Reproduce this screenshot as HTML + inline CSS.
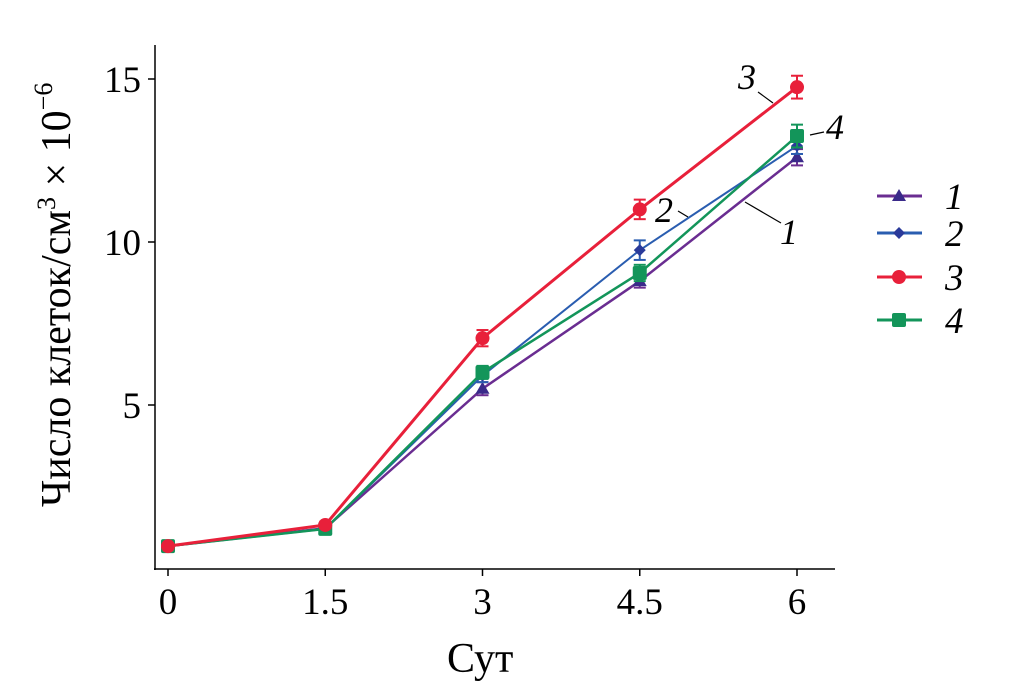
<!DOCTYPE html>
<html><head><meta charset="utf-8"><style>
html,body{margin:0;padding:0;background:#fff;}
svg{display:block;font-family:"Liberation Serif",serif;}
</style></head><body>
<svg id="chart" width="1010" height="689" viewBox="0 0 1010 689" xmlns="http://www.w3.org/2000/svg">
<g id="axes"></g>
<g id="series"></g>
<g id="annot">
<text x="738" y="89" font-size="36" font-style="italic">3</text>
<line x1="758" y1="92" x2="773" y2="103" stroke="#000" stroke-width="1.2"/>
<text x="826" y="139" font-size="36" font-style="italic">4</text>
<line x1="810" y1="135" x2="824" y2="132" stroke="#000" stroke-width="1.2"/>
<text x="655" y="222" font-size="36" font-style="italic">2</text>
<line x1="678" y1="211" x2="688" y2="217" stroke="#000" stroke-width="1.2"/>
<text x="780" y="244" font-size="36" font-style="italic">1</text>
<line x1="745" y1="202" x2="781" y2="223" stroke="#000" stroke-width="1.2"/>
</g>
<g id="legend"></g>
<text x="447" y="672" font-size="42">Сут</text>
<text transform="translate(70,507) rotate(-90)" font-size="42">Число клеток/см<tspan font-size="26" dy="-15">3</tspan><tspan dy="15"> × 10</tspan><tspan font-size="26" dy="-18">−6</tspan></text>
</svg>
<script>
const xValues=[0,1.5,3,4.5,6];
const xTickLabels=['0','1.5','3','4.5','6'];
const yTicks=[5,10,15];
const s1=[0.67,1.22,5.5,8.8,12.6];
const s2=[0.67,1.2,5.9,9.75,12.95];
const s3=[0.67,1.32,7.05,11.0,14.75];
const s4=[0.67,1.2,6.0,9.05,13.25];
const err1=[0,0.1,0.2,0.2,0.25];
const err2=[0,0.1,0.2,0.3,0.25];
const err3=[0,0.1,0.25,0.3,0.35];
const err4=[0,0.1,0.2,0.25,0.35];
const seriesNames=['1','2','3','4'];
const NS='http://www.w3.org/2000/svg';
const X=v=>168+v*(797-168)/6;
const Y=v=>568-v*32.6;
function mk(tag,attrs,parent){const e=document.createElementNS(NS,tag);for(const k in attrs)e.setAttribute(k,attrs[k]);parent.appendChild(e);return e;}
const ax=document.getElementById('axes');
let l=mk('line',{x1:155,y1:45,x2:155,y2:570,stroke:'#000','stroke-width':1.5},ax);


l=mk('line',{x1:154,y1:569,x2:835,y2:569,stroke:'#000','stroke-width':1.5},ax);


xValues.forEach((v,i)=>{
  mk('line',{x1:X(v),y1:569,x2:X(v),y2:576,stroke:'#000','stroke-width':1.5},ax);
  const t=mk('text',{x:X(v),y:614,'font-size':37,'text-anchor':'middle'},ax);
  t.textContent=xTickLabels[i];
  
  
});
yTicks.forEach(v=>{
  mk('line',{x1:148,y1:Y(v),x2:155,y2:Y(v),stroke:'#000','stroke-width':1.5},ax);
  const t=mk('text',{x:141,y:Y(v)+13,'font-size':37,'text-anchor':'end'},ax);
  t.textContent=String(v);
  
  
});
const colors=['#6a2d91','#2a5db0','#e8203a','#13955a'];
const data=[s1,s2,s3,s4];
const errs=[err1,err2,err3,err4];
const widths=[2.5,2,3,2.5];
function marker(k,cx,cy,g,c){
  let m;
  if(k===0)m=mk('polygon',{points:`${cx},${cy-7} ${cx+7},${cy+5} ${cx-7},${cy+5}`,fill:'#3a2a8a'},g);
  else if(k===1)m=mk('polygon',{points:`${cx},${cy-6} ${cx+6},${cy} ${cx},${cy+6} ${cx-6},${cy}`,fill:'#2a3a9a'},g);
  else if(k===2)m=mk('circle',{cx:cx,cy:cy,r:7,fill:c},g);
  else m=mk('rect',{x:cx-7,y:cy-7,width:14,height:14,rx:2,fill:c},g);
  return m;
}
const sg=document.getElementById('series');
const order=[0,1,3,2];
order.forEach(k=>{
  const g=mk('g',{},sg);
  
  
  const pts=data[k].map((v,i)=>X(xValues[i])+','+Y(v)).join(' ');
  mk('polyline',{points:pts,fill:'none',stroke:colors[k],'stroke-width':widths[k]},g);
  data[k].forEach((v,i)=>{
    const cx=X(xValues[i]),e=errs[k][i];
    if(e>0){
      mk('line',{x1:cx,y1:Y(v+e),x2:cx,y2:Y(v-e),stroke:colors[k],'stroke-width':2},g);
      mk('line',{x1:cx-6,y1:Y(v+e),x2:cx+6,y2:Y(v+e),stroke:colors[k],'stroke-width':2},g);
      mk('line',{x1:cx-6,y1:Y(v-e),x2:cx+6,y2:Y(v-e),stroke:colors[k],'stroke-width':2},g);
    }
    const m=marker(k,cx,Y(v),g,colors[k]);
    
    
  });
});
const lg=document.getElementById('legend');
const ly=[196,233,277,320];
seriesNames.forEach((n,k)=>{
  const g=mk('g',{},lg);
  
  
  mk('line',{x1:877,y1:ly[k],x2:922,y2:ly[k],stroke:colors[k],'stroke-width':3},g);
  marker(k,899,ly[k],g,colors[k]);
  const t=mk('text',{x:945,y:ly[k]+13,'font-size':37,'font-style':'italic'},g);
  t.textContent=n;
});
</script>
</body></html>
